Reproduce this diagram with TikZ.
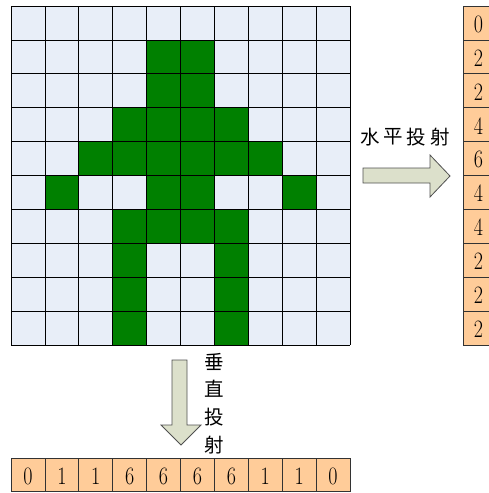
\documentclass[tikz,border=0pt]{standalone}
\usepackage{fontspec}
\newfontfamily\cjk{Noto Sans CJK SC}
\newfontfamily\digitfont[FakeStretch=0.8]{Latin Modern Roman}
\definecolor{cellbg}{HTML}{E8EEF8}
\definecolor{figgreen}{HTML}{008000}
\definecolor{valbg}{HTML}{FFCC99}
\definecolor{arrowbg}{HTML}{DCE0CB}
\definecolor{arrowln}{HTML}{505050}
\tikzset{
  gridcell/.style={draw=black, line width=0.8pt},
  valcell/.style={draw=black!80, line width=0.8pt, fill=valbg},
  digit/.style={font=\digitfont\fontsize{25}{25}\selectfont, inner sep=0pt},
  cjklabel/.style={font=\cjk\fontsize{19.5}{19.5}\selectfont, inner sep=0pt},
  bigarrow/.style={draw=arrowln, fill=arrowbg, line width=0.8pt, line join=miter}
}
\begin{document}
\begin{tikzpicture}[x=1pt,y=-1pt]
\useasboundingbox (0,0) rectangle (489,493);
\def\cs{33.9}
% grid background
\foreach \i in {0,...,9}{
  \foreach \j in {0,...,9}{
    \fill[cellbg] (11+\cs*\i,6+\cs*\j) rectangle ++(\cs,\cs);
  }
}
% green cells (col,row)
\foreach \c/\r in {4/1,5/1,4/2,5/2,3/3,4/3,5/3,6/3,2/4,3/4,4/4,5/4,6/4,7/4,1/5,4/5,5/5,8/5,3/6,4/6,5/6,6/6,3/7,6/7,3/8,6/8,3/9,6/9}{
  \fill[figgreen] (11+\cs*\c,6+\cs*\r) rectangle ++(\cs,\cs);
}
% grid lines
\foreach \k in {0,...,10}{
  \draw[gridcell] (11+\cs*\k,6) -- (11+\cs*\k,345);
  \draw[gridcell] (11,6+\cs*\k) -- (350,6+\cs*\k);
}
% right column (horizontal projection)
\foreach \v [count=\n from 0] in {0,2,2,4,6,4,4,2,2,2}{
  \draw[valcell] (463,6+\cs*\n) rectangle ++(26.5,\cs);
  \node[digit] (h\n) at (478.5,6+\cs*\n+\cs/2+1) {\v};
}
% bottom row (vertical projection)
\foreach \v [count=\n from 0] in {0,1,1,6,6,6,6,1,1,0}{
  \draw[valcell] (11+\cs*\n,458.5) rectangle ++(\cs,33);
  \node[digit] (v\n) at (11+\cs*\n+\cs/2,476.5) {\v};
}
% horizontal arrow
\draw[bigarrow] (363,168) -- (430,168) -- (430,155) -- (450,176) -- (430,197) -- (430,183) -- (363,183) -- cycle;
\node[cjklabel] (t1) at (370,137) {水};
\node[cjklabel] (t2) at (393,137) {平};
\node[cjklabel] (t3) at (416,137) {投};
\node[cjklabel] (t4) at (440,137) {射};
% vertical arrow
\draw[bigarrow] (172,360) -- (187,360) -- (187,425) -- (201,425) -- (181,445) -- (161,425) -- (172,425) -- cycle;
\node[cjklabel] (u1) at (214,362) {垂};
\node[cjklabel] (u2) at (214,389) {直};
\node[cjklabel] (u3) at (214,417) {投};
\node[cjklabel] (u4) at (214,445) {射};
\end{tikzpicture}
\end{document}
